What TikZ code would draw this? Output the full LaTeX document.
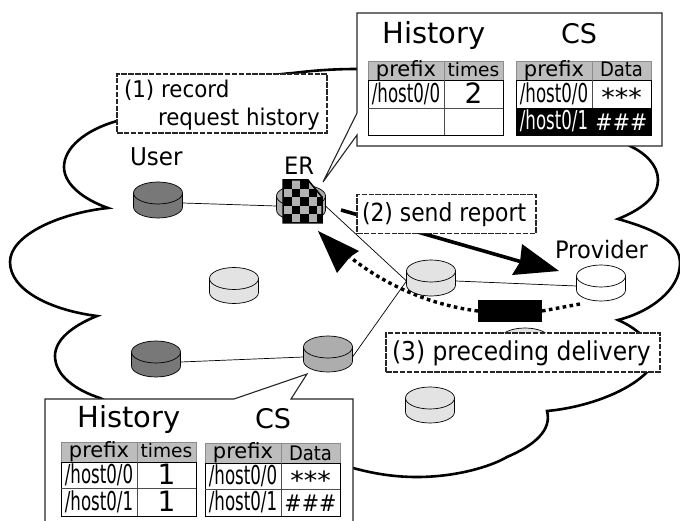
\documentclass[tikz,border=0pt]{standalone}
\usepackage{fontspec}
\usepackage{graphicx}
\setmainfont{DejaVu Sans}
\newcommand\fsz[1]{\fontsize{#1}{#1}\selectfont}
\newcommand\sq[2]{\scalebox{#1}[1]{#2}}
\definecolor{dkcyl}{gray}{0.47}
\definecolor{mdcyl}{gray}{0.68}
\definecolor{ltcyl}{gray}{0.89}
\definecolor{hdr}{gray}{0.74}
\tikzset{
  cylanchor/.style={inner sep=0pt, outer sep=0pt, minimum width=49pt, minimum height=30pt},
  link/.style={draw=black, line width=.7pt},
  cloud line/.style={draw=black, fill=white, line width=2.6pt, line join=miter},
  lbl/.style={draw=black!85, dash pattern=on 5.5pt off 1.4pt, fill=white, line width=1.05pt, inner sep=0pt, outer sep=0pt},
  txt/.style={inner sep=0pt, outer sep=0pt, anchor=base},
  txtw/.style={inner sep=0pt, outer sep=0pt, anchor=base west},
  callout/.style={draw=black!85, fill=white, line width=1.1pt, line join=miter},
  tip/.style={fill=black, draw=none},
}
% name, x, link y (3 below the centre of the cylinder), colour
\newcommand\cyl[4]{%
  \node[cylanchor] (#1) at (#2,#3) {};
  \begin{scope}[shift={(#1.center)}]
  \path[draw=black, fill=#4, line width=.7pt] (-24.5,-10) -- (-24.5,4)
    .. controls (-24.5,10.08) and (-13.53,15) .. (0,15)
    .. controls (13.53,15) and (24.5,10.08) .. (24.5,4) -- (24.5,-10) -- cycle;
  \path[draw=black, fill=#4, line width=.7pt] (0,-10) ellipse [x radius=24.5pt, y radius=11pt];
  \end{scope}
}
% x0, xm, x1, y0, y1, y2, y3
\newcommand\tb[7]{%
  \fill[hdr] (#1,#4) rectangle (#3,#5);
  \draw[black!45, line width=.9pt] (#1,#4) rectangle (#3,#5) (#2,#4) -- (#2,#5);
  \draw[black, line width=.9pt] (#1,#5) rectangle (#3,#7);
  \draw[black!70, line width=.9pt] (#2,#5) -- (#2,#7) (#1,#6) -- (#3,#6);
}
\begin{document}
\begin{tikzpicture}[x=1pt,y=-1pt]
\useasboundingbox (0,0) rectangle (680,521);
\fill[white] (0,0) rectangle (680,521);
% cloud
\path[cloud line] (117,121) .. controls (85,130) and (64,148) .. (64,167)
 .. controls (64,185) and (85,200) .. (108,208)
 .. controls (60,213) and (10,235) .. (10,262)
 .. controls (10,290) and (50,310) .. (97,316)
 .. controls (72,326) and (55,340) .. (55,356)
 .. controls (55,375) and (75,390) .. (100,398)
 .. controls (180,440) and (280,455) .. (353,468)
 .. controls (375,474) and (395,477) .. (417,477)
 .. controls (455,477) and (490,467) .. (507,457)
 .. controls (535,445) and (552,430) .. (547,411)
 .. controls (590,407) and (630,390) .. (647,372)
 .. controls (660,350) and (650,340) .. (638,332)
 .. controls (632,327) and (625,323) .. (618,320)
 .. controls (650,312) and (680,290) .. (680,263)
 .. controls (680,240) and (650,228) .. (618,219)
 .. controls (645,208) and (658,195) .. (658,180)
 .. controls (658,165) and (645,153) .. (630,146)
 .. controls (560,100) and (450,68) .. (357,69)
 .. controls (330,69) and (310,71) .. (293,73)
 .. controls (230,78) and (170,100) .. (117,121) -- cycle;
% routers
\cyl{user}{158}{203}{dkcyl}
\cyl{dark}{156}{362}{dkcyl}
\cyl{lta}{234}{288.5}{ltcyl}
\cyl{mid}{328}{357}{mdcyl}
\cyl{ctr}{431}{281}{ltcyl}
\cyl{prov}{601}{286}{white}
\cyl{ltb}{430}{408}{ltcyl}
\cyl{ltc}{525}{349}{ltcyl}
\cyl{er}{301}{206}{mdcyl}
% links
\draw[link] (user.east) -- (er.west);
\draw[link] (er.east) -- (ctr.west);
\draw[link] (mid.east) -- (ctr.west);
\draw[link] (dark.east) -- (mid.west);
\draw[link] (ctr.east) -- (prov.west);
% report arrow
\coordinate (rs) at (341,210);
\coordinate (re) at (522,262);
\draw[black, line width=3.6pt] (rs) -- (re);
\fill[tip] (559,271) -- (522,244) -- (520,262) -- (512,275) -- cycle;
% delivery
\node[fill=black, minimum width=64pt, minimum height=22pt, inner sep=0pt, outer sep=0pt] (blk) at (510,311) {};
\coordinate (de) at (350,257);
\coordinate (ds) at (580,304);
\draw[black, line width=3.4pt, dash pattern=on 3.6pt off 3.4pt] (blk.west) .. controls (430,305) and (385,285) .. (de);
\draw[black, line width=3.4pt, dash pattern=on 3.6pt off 3.4pt] (blk.east) -- (ds);
\fill[tip] (318,231) -- (359,251) -- (350,257) -- (337,273) -- cycle;
% content object on ER
\begin{scope}
\clip (283,180) -- (308,180) -- (322,197) -- (322,223) -- (283,223) -- cycle;
\fill[black!30] (283,180) rectangle (322,223);
\foreach \i in {0,...,4}{\foreach \j in {0,...,4}{
  \pgfmathparse{int(mod(\i+\j,2))}
  \ifnum\pgfmathresult=0 \fill[black] (283+\i*8.6,180+\j*8.6) rectangle (283+\i*8.6+8.6,180+\j*8.6+8.6);\fi
}}
\end{scope}
\draw[black, line width=1.5pt, line join=miter] (283,180) -- (308,180) -- (322,197) -- (322,223) -- (283,223) -- cycle;
% labels
\node[lbl, minimum width=210pt, minimum height=59pt] (l1) at (222,103.5) {};
\node[txtw] (l1a) at (124,98) {\fsz{23}\sq{.93}{(1) record}};
\node[txtw] (l1b) at (158,126) {\fsz{23}\sq{.93}{request history}};
\node[lbl, minimum width=179pt, minimum height=38.5pt] (l2) at (446.5,214) {};
\node[txtw] (l2a) at (362,222) {\fsz{25}\sq{.874}{(2) send report}};
\node[lbl, minimum width=274pt, minimum height=39pt] (l3) at (523,352.5) {};
\node[txtw] (l3a) at (392,360) {\fsz{26}\sq{.9}{(3) preceding delivery}};
\node[txtw] (user t) at (130,166) {\fsz{24.5}\sq{.94}{User}};
\node[txtw] (er t) at (284,175) {\fsz{24}\sq{.94}{ER}};
\node[txtw] (prov t) at (555,259) {\fsz{24}\sq{.94}{Provider}};
% top callout
\draw[callout] (357,113) -- (357,13) -- (662,13) -- (662,146) -- (357,146) -- (357,135) -- (323,182) -- cycle;
\node[txt] (h1) at (434,44) {\fsz{29}History};
\node[txt] (c1) at (579,44) {\fsz{27}CS};
\tb{368}{444}{503}{61}{80}{108}{135}
\tb{516}{592}{651}{61}{80}{108}{135}
\fill[black] (516,108) rectangle (651,135);
\node[txt] (a1) at (406,77) {\fsz{21}prefix};
\node[txt] (a2) at (473.5,77) {\fsz{18.6}times};
\node[txt] (a3) at (406,103) {\fsz{26}\sq{.64}{/host0/0}};
\node[txt] (a4) at (473.5,104) {\fsz{28}2};
\node[txt] (b1) at (554,77) {\fsz{21}prefix};
\node[txt] (b2) at (621.5,77) {\fsz{20}\sq{.9}{Data}};
\node[txt] (b3) at (554,103) {\fsz{26}\sq{.64}{/host0/0}};
\node[txt] (b4) at (621.5,107) {\fsz{25}\sq{1.08}{***}};
\node[txt, text=white] (b5) at (554,130) {\fsz{26}\sq{.64}{/host0/1}};
\node[txt, text=white] (b6) at (621.5,131) {\fsz{23}\sq{.9}{\#\#\#}};
% bottom callout
\draw[callout] (45,530) -- (45,399) -- (234,399) -- (307,374) -- (291,399) -- (353,399) -- (353,530);
\node[txt] (h2) at (129,427) {\fsz{29}History};
\node[txt] (c2) at (273,428) {\fsz{27}CS};
\tb{61}{137}{196}{442}{462}{488}{516}
\tb{205}{281}{340}{443}{463}{489}{516}
\node[txt] (d1) at (99,457) {\fsz{21}prefix};
\node[txt] (d2) at (166.5,457) {\fsz{18.6}times};
\node[txt] (d3) at (99,483) {\fsz{26}\sq{.64}{/host0/0}};
\node[txt] (d4) at (166.5,484) {\fsz{28}1};
\node[txt] (d5) at (99,510) {\fsz{26}\sq{.64}{/host0/1}};
\node[txt] (d6) at (166.5,511) {\fsz{28}1};
\node[txt] (e1) at (243,458) {\fsz{21}prefix};
\node[txt] (e2) at (310.5,460) {\fsz{20}\sq{.9}{Data}};
\node[txt] (e3) at (243,484) {\fsz{26}\sq{.64}{/host0/0}};
\node[txt] (e4) at (310.5,489) {\fsz{25}\sq{1.08}{***}};
\node[txt] (e5) at (243,510) {\fsz{26}\sq{.64}{/host0/1}};
\node[txt] (e6) at (310.5,511) {\fsz{23}\sq{.9}{\#\#\#}};
\end{tikzpicture}
\end{document}
